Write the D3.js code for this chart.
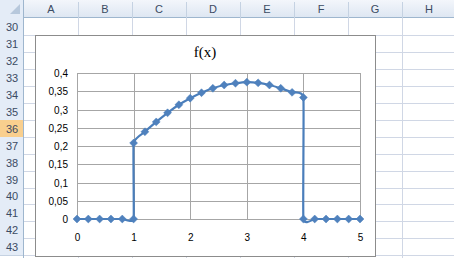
<!DOCTYPE html>
<html>
<head>
<meta charset="utf-8">
<script src="https://cdn.jsdelivr.net/npm/d3@7"></script>
<style>
  body { margin: 0; background: #fff; }
  svg { display: block; }
</style>
</head>
<body>
<svg id="chart"></svg>
<script>
// sheet labels
const colNames = ["A", "B", "C", "D", "E", "F", "G", "H"]
const rowNames = [30, 31, 32, 33, 34, 35, 36, 37, 38, 39, 40, 41, 42, 43]
const activeRow = 36

// f(x) series
const xVals = [0, 0.2, 0.4, 0.6, 0.8, 1, 1, 1.2, 1.4, 1.6, 1.8, 2, 2.2, 2.4, 2.6, 2.8, 3,
               3.2, 3.4, 3.6, 3.8, 4, 4, 4.2, 4.4, 4.6, 4.8, 5]
const yVals = [0, 0, 0, 0, 0, 0, 0.208, 0.239, 0.266, 0.291, 0.313, 0.331, 0.346, 0.358, 0.367, 0.372, 0.375,
               0.373, 0.367, 0.358, 0.347, 0.333, 0, 0, 0, 0, 0, 0]
const xTicks = [0, 1, 2, 3, 4, 5]
const yTicks = [0, 0.05, 0.1, 0.15, 0.2, 0.25, 0.3, 0.35, 0.4]
const title = "f(x)"

const W = 454, H = 258
const svg = d3.select('#chart').attr('width', W).attr('height', H)

// ---- spreadsheet background ----
const headH = 18, rowHeadW = 24, colW = 54, rowH = 16.95

const grid = svg.append('g')
colNames.forEach((c, i) => {
    grid.append('line')
        .attr('x1', rowHeadW + (i + 1) * colW + 0.5).attr('x2', rowHeadW + (i + 1) * colW + 0.5)
        .attr('y1', headH).attr('y2', H)
        .attr('stroke', '#d0d7e5')
})
rowNames.forEach((r, i) => {
    const y = Math.round(headH + (i + 1) * rowH) + 0.5
    grid.append('line')
        .attr('x1', rowHeadW).attr('x2', W)
        .attr('y1', y).attr('y2', y)
        .attr('stroke', '#d0d7e5')
})

// column header
const hgrad = svg.append('defs').append('linearGradient')
    .attr('id', 'hg').attr('x1', 0).attr('x2', 0).attr('y1', 0).attr('y2', 1)
hgrad.append('stop').attr('offset', 0).attr('stop-color', '#f3f6fb')
hgrad.append('stop').attr('offset', 1).attr('stop-color', '#dde6f2')

svg.append('rect').attr('x', 0).attr('y', 0).attr('width', W).attr('height', headH)
   .attr('fill', 'url(#hg)')
svg.append('line').attr('x1', 0).attr('x2', W).attr('y1', headH - 0.5).attr('y2', headH - 0.5)
   .attr('stroke', '#9eb6ce')
colNames.forEach((c, i) => {
    svg.append('line')
       .attr('x1', rowHeadW + (i + 1) * colW + 0.5).attr('x2', rowHeadW + (i + 1) * colW + 0.5)
       .attr('y1', 2).attr('y2', headH)
       .attr('stroke', '#c5d2e2')
    svg.append('text')
       .attr('x', rowHeadW + i * colW + colW / 2).attr('y', 13)
       .attr('text-anchor', 'middle')
       .attr('font-family', 'Liberation Sans, Arial, sans-serif').attr('font-size', 11)
       .attr('fill', '#3b4b63')
       .text(c)
})
// corner
svg.append('rect').attr('x', 0).attr('y', 0).attr('width', rowHeadW).attr('height', headH)
   .attr('fill', '#e4ecf7')
svg.append('path').attr('d', `M${rowHeadW - 4},4 L${rowHeadW - 4},${headH - 4} L${rowHeadW - 14},${headH - 4} Z`)
   .attr('fill', '#b7c8dc')
svg.append('line').attr('x1', rowHeadW - 0.5).attr('x2', rowHeadW - 0.5).attr('y1', 0).attr('y2', H)
   .attr('stroke', '#9eb6ce')

// row header
rowNames.forEach((r, i) => {
    const y0 = Math.round(headH + i * rowH)
    const y1 = Math.round(headH + (i + 1) * rowH)
    svg.append('rect').attr('x', 0).attr('y', y0).attr('width', rowHeadW - 1).attr('height', y1 - y0)
       .attr('fill', r === activeRow ? '#f9cf8e' : '#e4ecf7')
    svg.append('line').attr('x1', 0).attr('x2', rowHeadW - 1).attr('y1', y1 + 0.5).attr('y2', y1 + 0.5)
       .attr('stroke', '#c5d2e2')
    svg.append('text')
       .attr('x', 12).attr('y', (y0 + y1) / 2 + 4)
       .attr('text-anchor', 'middle')
       .attr('font-family', 'Liberation Sans, Arial, sans-serif').attr('font-size', 11)
       .attr('fill', '#3b4b63')
       .text(r)
})

// ---- chart object ----
svg.append('rect').attr('x', 35.5).attr('y', 35.5).attr('width', 340).attr('height', 221)
   .attr('fill', '#fff').attr('stroke', '#8c8c8c')

svg.append('text')
   .attr('x', 205).attr('y', 57)
   .attr('text-anchor', 'middle')
   .attr('font-family', 'Liberation Serif, Times New Roman, serif').attr('font-size', 15)
   .attr('fill', '#000')
   .text(title)

const xscale = d3.scaleLinear().domain([0, 5]).range([77, 360])
const yscale = d3.scaleLinear().domain([0, 0.4]).range([219, 73])

// gridlines
svg.append('g').selectAll('line').data(yTicks).join('line')
   .attr('x1', xscale(0)).attr('x2', xscale(5))
   .attr('y1', d => Math.round(yscale(d)) + 0.5).attr('y2', d => Math.round(yscale(d)) + 0.5)
   .attr('stroke', '#a6a6a6')
svg.append('g').selectAll('line').data(xTicks).join('line')
   .attr('x1', d => Math.round(xscale(d)) + 0.5).attr('x2', d => Math.round(xscale(d)) + 0.5)
   .attr('y1', yscale(0.4)).attr('y2', yscale(0))
   .attr('stroke', '#a6a6a6')

const fmt = d => String(d).replace('.', ',')
const yAxis = svg.append('g')
   .attr('transform', `translate(${xscale(0) - 6},0)`)
   .call(d3.axisLeft(yscale).tickValues(yTicks).tickSize(0).tickFormat(fmt))
const xAxis = svg.append('g')
   .attr('transform', `translate(0,${yscale(0) + 12})`)
   .call(d3.axisBottom(xscale).tickValues(xTicks).tickSize(0).tickFormat(fmt))
;[yAxis, xAxis].forEach(a => {
    a.select('.domain').remove()
    a.selectAll('text')
     .attr('font-family', 'Liberation Sans, Arial, sans-serif').attr('font-size', 10)
     .attr('fill', '#000')
})
yAxis.selectAll('text').attr('dy', '0.35em')

// series
const pts = xVals.map((x, i) => [x, yVals[i]])
const line = d3.line()
   .x(d => xscale(d[0])).y(d => yscale(d[1]))
   .curve(d3.curveCardinal.tension(0.65))

svg.append('path').datum(pts)
   .attr('d', line)
   .attr('fill', 'none')
   .attr('stroke', '#4a7ebb')
   .attr('stroke-width', 2.2)

svg.append('g').selectAll('path').data(pts).join('path')
   .attr('d', d3.symbol(d3.symbolDiamond2, 40))
   .attr('transform', d => `translate(${xscale(d[0])},${yscale(d[1])})`)
   .attr('fill', '#4f81bd')
   .attr('stroke', '#4a7ebb')
   .attr('stroke-width', 0.5)
</script>
</body>
</html>
